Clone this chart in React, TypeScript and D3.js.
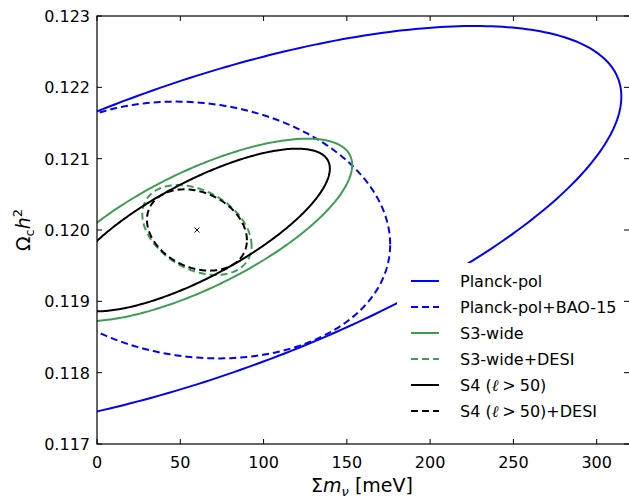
import React from "react";
import * as d3 from "d3";

const W = 629, H = 499;
const M = { left: 97, right: 630, top: 16, bottom: 444 };

const xTicks = [0, 50, 100, 150, 200, 250, 300];
const yTicks = [0.117, 0.118, 0.119, 0.12, 0.121, 0.122, 0.123];
const xDomain = [0, 320];
const yDomain = [0.117, 0.123];

// Fiducial point
const fiducialX = 60;
const fiducialY = 0.12;

// Ellipse parameters
const names = ["Planck-pol", "Planck-pol+BAO-15", "S3-wide", "S3-wide+DESI", "S4 (ℓ > 50)", "S4 (ℓ > 50)+DESI"];
const sigmaX = [254.8, 116, 93.2, 32.8, 79.8, 30];
const sigmaY = [0.00286, 0.0018, 0.00128, 0.00063, 0.00114, 0.00057];
const rho = [0.654, -0.112, 0.711, -0.35, 0.754, -0.25];
const colors = ["#0000ff", "#0000ff", "#3d9e52", "#3d9e52", "#000000", "#000000"];
const dashed = [false, true, false, true, false, true];

export default function App() {
  const x = d3.scaleLinear().domain(xDomain).range([M.left, M.right]);
  const y = d3.scaleLinear().domain(yDomain).range([M.bottom, M.top]);
  const line = d3.line<[number, number]>().x((d) => x(d[0])).y((d) => y(d[1])).curve(d3.curveLinearClosed);
  const ts = d3.range(0, 360, 1).map((d) => (d * Math.PI) / 180);

  const paths = names.map((n, i) => {
    const pts: [number, number][] = ts.map((t) => [
      fiducialX + sigmaX[i] * Math.cos(t),
      fiducialY + sigmaY[i] * (rho[i] * Math.cos(t) + Math.sqrt(1 - rho[i] * rho[i]) * Math.sin(t)),
    ]);
    return line(pts) as string;
  });

  const font = "'DejaVu Sans', sans-serif";
  const legendX0 = 411, legendX1 = 439, legendTextX = 460, legendY0 = 281, legendDy = 26;

  const renderLabel = (n: string) => {
    if (n.includes("ℓ")) {
      const rest = n.split("ℓ > 50)")[1];
      return (
        <>
          <tspan>S4 (</tspan>
          <tspan fontStyle="italic" fontFamily="'DejaVu Serif', serif">ℓ</tspan>
          <tspan dx="4" fontFamily="'DejaVu Serif', serif">&gt;</tspan>
          <tspan dx="4">50)</tspan>
          <tspan>{rest}</tspan>
        </>
      );
    }
    return n;
  };

  return (
    <svg width={W} height={H} style={{ position: "absolute", left: 0, top: 0, background: "#fff" }} fontFamily={font}>
      <defs>
        <clipPath id="plotclip">
          <rect x={M.left} y={M.top} width={M.right - M.left} height={M.bottom - M.top} />
        </clipPath>
      </defs>
      <g clipPath="url(#plotclip)">
        {paths.map((p, i) => (
          <path key={i} d={p} fill="none" stroke={colors[i]} strokeWidth={2} strokeDasharray={dashed[i] ? "7,4" : undefined} />
        ))}
      </g>
      {/* fiducial marker */}
      <g stroke="#000" strokeWidth={1}>
        <line x1={x(fiducialX) - 2.5} x2={x(fiducialX) + 2.5} y1={y(fiducialY) - 2.5} y2={y(fiducialY) + 2.5} />
        <line x1={x(fiducialX) - 2.5} x2={x(fiducialX) + 2.5} y1={y(fiducialY) + 2.5} y2={y(fiducialY) - 2.5} />
      </g>
      {/* legend background */}
      <rect x={397} y={263} width={226} height={162} fill="#fff" />
      {/* frame */}
      <rect x={M.left} y={M.top} width={M.right - M.left} height={M.bottom - M.top} fill="none" stroke="#000" strokeWidth={1.2} />
      {/* ticks */}
      <g stroke="#000" strokeWidth={1}>
        {xTicks.map((t) => (
          <g key={"xt" + t}>
            <line x1={x(t)} x2={x(t)} y1={M.bottom} y2={M.bottom - 5} />
            <line x1={x(t)} x2={x(t)} y1={M.top} y2={M.top + 5} />
          </g>
        ))}
        {yTicks.map((t) => (
          <g key={"yt" + t}>
            <line x1={M.left} x2={M.left + 5} y1={y(t)} y2={y(t)} />
            <line x1={M.right - 1} x2={M.right - 6} y1={y(t)} y2={y(t)} />
          </g>
        ))}
      </g>
      <g fontSize={16} fill="#000">
        {xTicks.map((t) => (
          <text key={"xl" + t} x={x(t)} y={M.bottom + 24} textAnchor="middle">{t}</text>
        ))}
        {yTicks.map((t) => (
          <text key={"yl" + t} x={M.left - 7} y={y(t) + 6} textAnchor="end">{d3.format(".3f")(t)}</text>
        ))}
      </g>
      {/* axis labels */}
      <text x={362} y={492} fontSize={19} textAnchor="middle">
        Σ<tspan fontStyle="italic">m</tspan><tspan fontStyle="italic" fontSize={13} dy={4}>ν</tspan><tspan dy={-4}> [meV]</tspan>
      </text>
      <text transform={`translate(30,${y(0.12)}) rotate(-90)`} fontSize={19} textAnchor="middle">
        Ω<tspan fontSize={13} dy={4}>c</tspan><tspan dy={-4} fontStyle="italic">h</tspan><tspan fontSize={13} dy={-8}>2</tspan>
      </text>
      {/* legend */}
      <g fontSize={16}>
        {names.map((n, i) => (
          <g key={"lg" + i}>
            <line x1={legendX0} x2={legendX1} y1={legendY0 + i * legendDy} y2={legendY0 + i * legendDy} stroke={colors[i]} strokeWidth={2} strokeDasharray={dashed[i] ? "7,4" : undefined} />
            <text x={legendTextX} y={legendY0 + i * legendDy + 6}>{renderLabel(n)}</text>
          </g>
        ))}
      </g>
    </svg>
  );
}
